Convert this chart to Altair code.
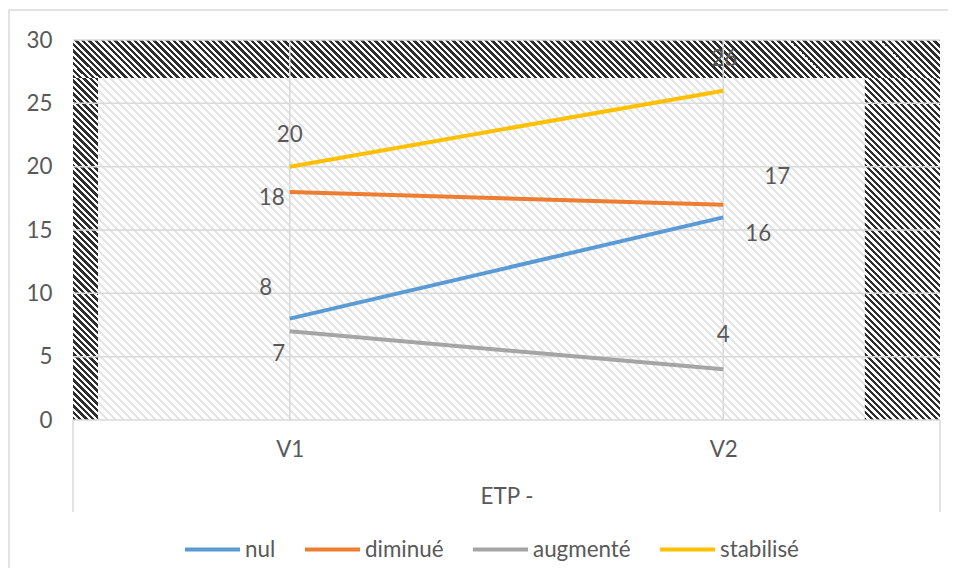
import math
import altair as alt
import pandas as pd

# ---------------- data ----------------
categories = ["V1", "V2"]
series_names = ["nul", "diminué", "augmenté", "stabilisé"]
nul = [8, 16]
diminue = [18, 17]
augmente = [7, 4]
stabilise = [20, 26]
y_ticks = [0, 5, 10, 15, 20, 25, 30]
x_title = "ETP -"
series_colors = ["#5B9BD5", "#ED7D31", "#A5A5A5", "#FFC000"]

# background shading zones (x as share of the plot width, y in data units)
shade_x0 = [0.0, 0.0, 0.913, 0.029]
shade_x1 = [1.0, 0.029, 1.0, 0.913]
shade_y0 = [27, 0, 0, 0]
shade_y1 = [30, 27, 27, 27]
shade_kind = ["dark", "dark", "dark", "light"]

# ---------------- layout / style ----------------
W, H = 867, 380
PAD = {"left": 65, "top": 32, "right": 8, "bottom": 148}
FONT = "Lato"
FS = 22.4
TXT = "#595959"
GRID = "#d9d9d9"

label_offsets = {
    ("nul", "V1"): (-24, -31), ("nul", "V2"): (35, 17),
    ("diminué", "V1"): (-18, 6), ("diminué", "V2"): (54, -28),
    ("augmenté", "V1"): (-11, 23), ("augmenté", "V2"): (0, -34),
    ("stabilisé", "V1"): (0, -32), ("stabilisé", "V2"): (1, -32),
}

values = [nul, diminue, augmente, stabilise]
rows = []
for s, vals in zip(series_names, values):
    for c, v in zip(categories, vals):
        rows.append({"serie": s, "cat": c, "val": v})
df = pd.DataFrame(rows)

y_scale = alt.Scale(domain=[0, 30], nice=False, zero=True)
y_axis = alt.Axis(values=y_ticks, grid=False, domain=False, ticks=False,
                  labelFont=FONT, labelFontSize=FS, labelColor=TXT,
                  labelPadding=21, title=None)
x_scale = alt.Scale(type="point", domain=categories, padding=0.5)
x_axis = alt.Axis(title=x_title, grid=False, domain=False, ticks=False,
                  labelFont=FONT, labelFontSize=FS, labelColor=TXT,
                  labelAngle=0, labelBaseline="middle", labelPadding=29,
                  titleFont=FONT, titleFontSize=FS, titleColor=TXT,
                  titleFontWeight="normal", titlePadding=25)


def yenc(field):
    return alt.Y(f"{field}:Q", scale=y_scale, axis=y_axis)


def xenc():
    return alt.X("cat:N", scale=x_scale, sort=categories, axis=x_axis)


def hatch(w, h, period, frac, c1, c2):
    r = h / w
    k = (1 + r) / (1 + r * r)
    n = (w + h) / period
    stops = []
    for i in range(int(math.ceil(n))):
        a = min(i / n, 1.0)
        b = min((i + frac) / n, 1.0)
        c = min((i + 1) / n, 1.0)
        stops += [{"offset": a, "color": c1}, {"offset": b, "color": c1},
                  {"offset": b, "color": c2}, {"offset": c, "color": c2}]
    return {"gradient": "linear", "x1": 0, "y1": 1, "x2": k, "y2": 1 - r * k,
            "stops": stops}


bg_layers = []
for x0, x1, y0, y1, kind in zip(shade_x0, shade_x1, shade_y0, shade_y1, shade_kind):
    w = (x1 - x0) * W
    h = (y1 - y0) / 30 * H
    if kind == "dark":
        fill = hatch(w, h, 6.5, 0.5, "#2e2e2e", "#ffffff")
    else:
        fill = hatch(w, h, 8.0, 0.38, "#e6e6e6", "#ffffff")
    d = pd.DataFrame([{"x0": x0, "x1": x1, "y0": y0, "y1": y1}])
    bg_layers.append(
        alt.Chart(d).mark_rect(fill=fill).encode(
            x=alt.X("x0:Q", scale=alt.Scale(domain=[0, 1], nice=False, zero=False), axis=None),
            x2="x1:Q",
            y=yenc("y0"),
            y2="y1:Q",
        )
    )

hgrid = alt.Chart(pd.DataFrame({"v": y_ticks})).mark_rule(
    color=GRID, strokeWidth=1.5).encode(y=yenc("v"))

vgrid = alt.Chart(pd.DataFrame({"cat": categories})).mark_rule(
    color=GRID, strokeWidth=1.5).encode(x=xenc())

lines = alt.Chart(df).mark_line(strokeWidth=4).encode(
    x=xenc(),
    y=yenc("val"),
    color=alt.Color("serie:N", sort=series_names,
                    scale=alt.Scale(domain=series_names, range=series_colors),
                    legend=alt.Legend(title=None, orient="none", direction="horizontal",
                                      legendX=110, legendY=480, symbolType="stroke",
                                      symbolSize=3025, symbolStrokeWidth=4,
                                      labelFont=FONT, labelFontSize=FS, labelColor=TXT,
                                      labelOffset=3, columnPadding=21, padding=0)),
    order=alt.Order("cat:N"),
)

label_layers = []
for (s, c), (dx, dy) in label_offsets.items():
    sub = df[(df["serie"] == s) & (df["cat"] == c)]
    label_layers.append(
        alt.Chart(sub).mark_text(font=FONT, fontSize=FS, color=TXT, dx=dx, dy=dy,
                                 align="center", baseline="middle").encode(
            x=xenc(),
            y=yenc("val"),
            text=alt.Text("val:Q"),
        )
    )

one = pd.DataFrame([{"a": 1}])
left_edge = alt.Chart(one).mark_rule(color=GRID, strokeWidth=1.5).encode(
    x=alt.value(0), y=alt.value(H), y2=alt.value(H + 92))
right_edge = alt.Chart(one).mark_rule(color=GRID, strokeWidth=1.5).encode(
    x=alt.value(W), y=alt.value(H), y2=alt.value(H + 92))
frame = alt.Chart(one).mark_rect(fill="transparent", stroke=GRID, strokeWidth=1.5).encode(
    x=alt.value(-64), x2=alt.value(1000), y=alt.value(-30), y2=alt.value(700))

main = alt.layer(hgrid, vgrid, lines, *label_layers, left_edge, right_edge, frame)

chart = alt.layer(*bg_layers, main).resolve_scale(x="independent").resolve_axis(
    x="independent").properties(
    width=W, height=H, padding=PAD, autosize=alt.AutoSizeParams(type="none"),
    background="white",
).configure_view(strokeWidth=0)

chart.save("out.html", embed_options={"renderer": "svg", "actions": False})
